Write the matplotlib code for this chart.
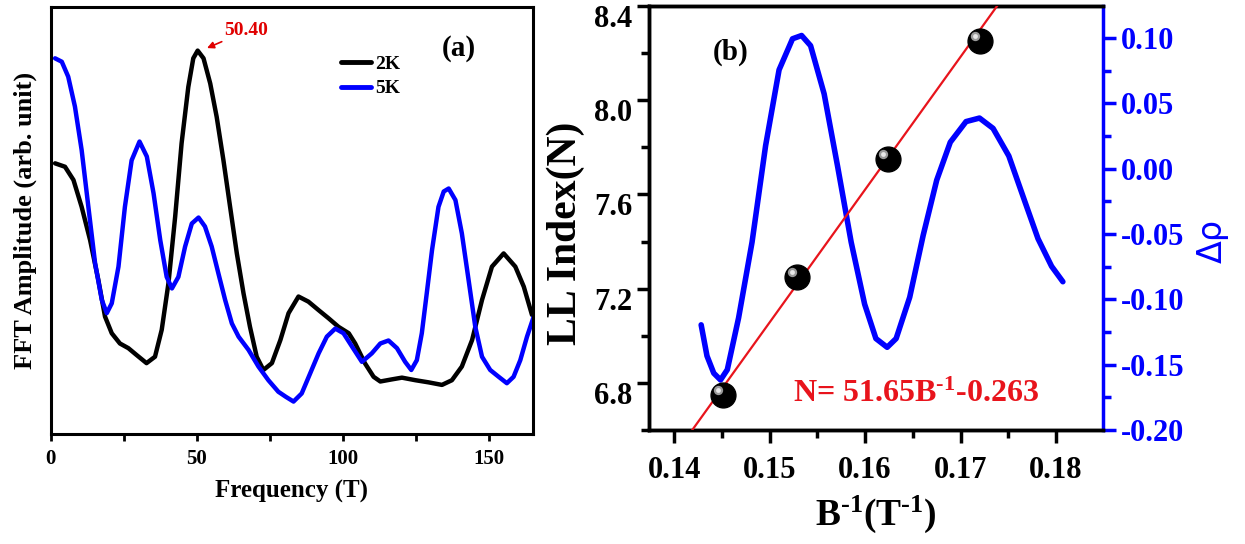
import matplotlib
matplotlib.use("Agg")
import matplotlib.pyplot as plt
import matplotlib.transforms as mtransforms
from matplotlib.ticker import MultipleLocator

# ---------------- data: panel (a) FFT ----------------
f_2K = [1.5, 4.9, 7.8, 10.6, 13.5, 16.3, 18.6, 20.9, 23.7, 26.6, 29.4, 32.8, 35.7,
        38.0, 40.3, 42.6, 44.8, 47.1, 48.8, 50.3, 52.3, 54.6, 56.8, 59.1, 61.4, 63.7,
        66.0, 68.2, 70.5, 72.8, 75.7, 78.6, 81.4, 84.8, 88.2, 91.7, 95.1, 98.5,
        102.0, 104.2, 107.6, 110.5, 112.8, 116.8, 120.2, 124.8, 129.3, 133.9, 137.3,
        140.7, 144.2, 147.6, 151.0, 155.0, 159.0, 161.9, 164.7]
amp_2K = [0.634, 0.626, 0.595, 0.532, 0.454, 0.361, 0.275, 0.236, 0.212, 0.201, 0.185,
          0.166, 0.181, 0.244, 0.353, 0.509, 0.681, 0.813, 0.880, 0.898, 0.880, 0.821,
          0.743, 0.642, 0.532, 0.423, 0.329, 0.251, 0.181, 0.150, 0.166, 0.220, 0.283,
          0.322, 0.310, 0.290, 0.271, 0.251, 0.236, 0.212, 0.165, 0.134, 0.123, 0.128,
          0.132, 0.126, 0.121, 0.115, 0.126, 0.158, 0.220, 0.314, 0.392, 0.423, 0.392,
          0.345, 0.279]

f_5K = [1.5, 3.8, 6.0, 8.3, 10.6, 12.9, 15.2, 17.5, 19.2, 20.9, 23.2, 25.4, 27.7,
        30.4, 32.9, 35.2, 37.5, 39.7, 41.5, 43.7, 46.0, 48.3, 50.6, 52.8, 55.1, 57.4,
        59.7, 62.0, 64.3, 67.7, 71.1, 74.5, 77.9, 80.5, 83.1, 85.9, 88.8, 91.7, 94.5,
        97.4, 100.2, 103.1, 106.5, 109.9, 112.8, 115.6, 118.5, 121.3, 123.4, 125.3,
        127.0, 128.7, 130.5, 132.7, 134.5, 136.2, 138.5, 140.7, 143.0, 145.3, 147.6,
        150.4, 153.3, 156.1, 158.4, 160.7, 163.0, 165.3]
amp_5K = [0.880, 0.872, 0.837, 0.767, 0.665, 0.532, 0.400, 0.314, 0.283, 0.306, 0.392,
          0.532, 0.641, 0.685, 0.650, 0.564, 0.454, 0.368, 0.341, 0.368, 0.439, 0.493,
          0.507, 0.486, 0.439, 0.376, 0.314, 0.259, 0.228, 0.197, 0.158, 0.126, 0.099,
          0.087, 0.076, 0.095, 0.142, 0.189, 0.228, 0.247, 0.236, 0.205, 0.169, 0.189,
          0.212, 0.219, 0.201, 0.169, 0.150, 0.173, 0.236, 0.330, 0.431, 0.532, 0.568,
          0.575, 0.548, 0.470, 0.361, 0.251, 0.181, 0.150, 0.134, 0.119, 0.134, 0.173,
          0.228, 0.275]

peak_label = "50.40"
peak_f, peak_amp = 53.5, 0.904

# ---------------- data: panel (b) LL fan ----------------
inv_B = [0.1451, 0.1529, 0.1624, 0.1720]
LL_N = [6.75, 7.25, 7.75, 8.25]
fit_x = [0.1419, 0.1740]
fit_y = [6.60, 8.41]
fit_label = r"N= 51.65B$^{\text{-1}}$-0.263"

drho_x = [0.14283, 0.14344, 0.14415, 0.14486, 0.14557, 0.14675, 0.14816, 0.14958,
          0.15099, 0.15240, 0.15335, 0.15429, 0.15571, 0.15712, 0.15854, 0.15995,
          0.16113, 0.16231, 0.16325, 0.16467, 0.16608, 0.16750, 0.16892, 0.17057,
          0.17198, 0.17340, 0.17505, 0.17670, 0.17811, 0.17953, 0.18071]
drho_y = [-0.1195, -0.1433, -0.1565, -0.1617, -0.1538, -0.1142, -0.0562, 0.0177,
          0.0757, 0.0995, 0.1020, 0.0942, 0.0573, 0.0018, -0.0562, -0.1037,
          -0.1300, -0.1367, -0.1300, -0.0984, -0.0510, -0.0087, 0.0203, 0.0361,
          0.0388, 0.0309, 0.0098, -0.0245, -0.0536, -0.0747, -0.0865]

SERIF = ["Liberation Serif", "DejaVu Serif"]
plt.rcParams["font.family"] = SERIF
plt.rcParams["font.weight"] = "bold"
plt.rcParams["mathtext.fontset"] = "custom"
plt.rcParams["mathtext.rm"] = "Liberation Serif:bold"
plt.rcParams["mathtext.bf"] = "Liberation Serif:bold"
plt.rcParams["mathtext.default"] = "bf"

fig = plt.figure(figsize=(12.45, 5.44), dpi=100)
fig.patch.set_facecolor("white")

# ---------------- panel (a) ----------------
axA = fig.add_axes([0.0407, 0.2022, 0.3873, 0.7848])
axA.plot(f_2K, amp_2K, color="black", lw=3.2, label="2K",
         solid_capstyle="round", solid_joinstyle="round")
axA.plot(f_5K, amp_5K, color="#0000ff", lw=3.2, label="5K",
         solid_capstyle="round", solid_joinstyle="round")
axA.set_xlim(0, 165)
axA.set_ylim(0, 1)
axA.xaxis.set_major_locator(MultipleLocator(50))
axA.xaxis.set_minor_locator(MultipleLocator(25))
axA.set_yticks([])
axA.tick_params(axis="x", which="both", direction="out", width=2, length=5,
                labelsize=15, pad=6)
for s in axA.spines.values():
    s.set_linewidth(2.2)
axA.set_xlabel("Frequency (T)", fontsize=18, fontweight="bold", labelpad=8)
axA.set_ylabel("FFT Amplitude (arb. unit)", fontsize=19, fontweight="bold", labelpad=10)
axA.text(139.8, 0.904, "(a)", fontsize=21, fontweight="bold", ha="center", va="center")
axA.annotate(peak_label, xy=(peak_f, peak_amp), xytext=(59.5, 0.944),
             color="#e00000", fontsize=14, fontweight="bold", ha="left", va="center",
             arrowprops=dict(arrowstyle="-|>", color="#e00000", lw=1.2,
                             mutation_scale=10, shrinkA=0, shrinkB=0))
leg = axA.legend(loc="upper left", bbox_to_anchor=(0.585, 0.905), frameon=False,
                 fontsize=14, handlelength=1.55, handletextpad=0.25,
                 labelspacing=0.35, borderaxespad=0)
for h in leg.get_lines():
    h.set_linewidth(3.5)

# ---------------- panel (b) ----------------
axB = fig.add_axes([0.5213, 0.2096, 0.3647, 0.7794])
axR = axB.twinx()

axR.plot(drho_x, drho_y, color="#0000ff", lw=4.0, solid_capstyle="round",
         solid_joinstyle="round", zorder=1)
axR.set_ylim(-0.20, 0.1246)
axR.yaxis.set_major_locator(MultipleLocator(0.05))
axR.yaxis.set_minor_locator(MultipleLocator(0.025))
axR.yaxis.set_major_formatter(plt.FuncFormatter(lambda v, p: f"{v:.2f}"))
axR.tick_params(axis="y", which="both", direction="out", colors="#0000ff",
                width=2.5, labelsize=22, pad=4)
axR.tick_params(axis="y", which="major", length=9)
axR.tick_params(axis="y", which="minor", length=6)
axR.set_ylabel("Δρ", fontsize=24, color="#0000ff", family=["DejaVu Sans"],
               fontweight="normal", rotation=90, labelpad=6)
axR.yaxis.set_label_coords(1.205, 0.445)

axB.set_zorder(axR.get_zorder() + 1)
axB.patch.set_visible(False)

axB.plot(fit_x, fit_y, color="#e8141c", lw=1.6, zorder=3)
axB.scatter(inv_B, LL_N, s=320, color="black", zorder=4)
hl = mtransforms.offset_copy(axB.transData, fig=fig, x=-3.5, y=3.5, units="points")
axB.scatter(inv_B, LL_N, s=45, color="#9a9a9a", transform=hl, zorder=5, linewidths=0)
axB.scatter(inv_B, LL_N, s=12, color="#e8e8e8", transform=hl, zorder=6, linewidths=0)

axB.set_xlim(0.13737, 0.18492)
axB.set_ylim(6.6, 8.4)
axB.xaxis.set_major_locator(MultipleLocator(0.01))
axB.xaxis.set_minor_locator(MultipleLocator(0.005))
axB.yaxis.set_major_locator(MultipleLocator(0.4))
axB.yaxis.set_minor_locator(MultipleLocator(0.2))
axB.xaxis.set_major_formatter(plt.FuncFormatter(lambda v, p: f"{v:.2f}"))
axB.yaxis.set_major_formatter(plt.FuncFormatter(lambda v, p: f"{v:.1f}"))
axB.tick_params(axis="both", which="both", direction="out", width=2.5, labelsize=22)
axB.tick_params(axis="both", which="major", length=9)
axB.tick_params(axis="both", which="minor", length=6)
axB.tick_params(axis="x", pad=10)
axB.tick_params(axis="y", pad=3)

# left tick labels sit slightly below their ticks in the reference
shift = mtransforms.ScaledTranslation(0, -0.10, fig.dpi_scale_trans)
for lab in axB.get_yticklabels():
    lab.set_transform(lab.get_transform() + shift)

for s in axB.spines.values():
    s.set_linewidth(2.5)
for s in axR.spines.values():
    s.set_linewidth(2.5)
axR.spines["right"].set_color("#0000ff")
axB.spines["right"].set_visible(False)

axB.set_xlabel(r"B$^{\text{-1}}$(T$^{\text{-1}}$)", fontsize=27, fontweight="bold",
               labelpad=6)
axB.set_ylabel("LL Index(N)", fontsize=30, fontweight="bold")
axB.yaxis.set_label_coords(-0.141, 0.465)
axB.text(0.1459, 8.205, "(b)", fontsize=21, fontweight="bold", ha="center", va="center")
axB.text(0.15246, 6.749, fit_label, color="#e8141c", fontsize=23, fontweight="bold",
         ha="left", va="center")

fig.savefig("out.png", dpi=100, facecolor="white")
